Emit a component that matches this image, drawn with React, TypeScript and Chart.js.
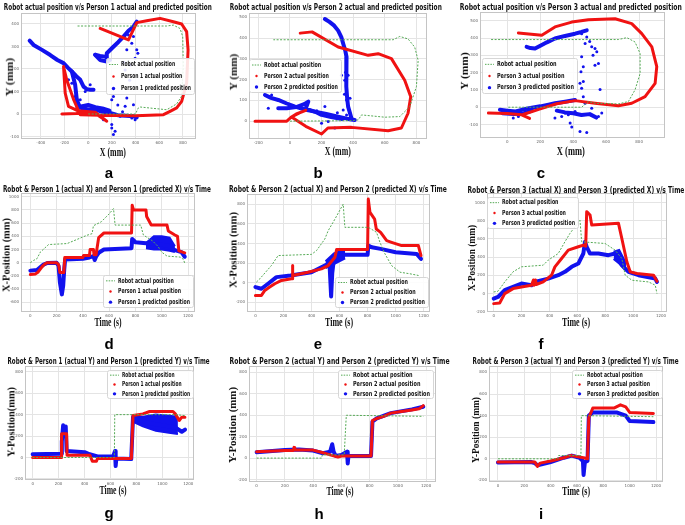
import React, { useEffect, useRef } from "react";
import { Chart, registerables } from "chart.js";

Chart.register(...registerables);

type Pt = [number, number];

// ---------------- shared tick labels ----------------
const TIME_TICKS = [0, 200, 400, 600, 800, 1000, 1200];
const A_X_TICKS = [-400, -200, 0, 200, 400, 600, 800];
const A_Y_TICKS = [-100, 0, 100, 200, 300, 400];
const B_X_TICKS = [-200, 0, 200, 400, 600, 800];
const B_Y_TICKS = [0, 100, 200, 300, 400, 500];
const C_X_TICKS = [0, 200, 400, 600, 800];
const C_Y_TICKS = [-100, 0, 100, 200, 300, 400, 500];
const D_Y_TICKS = [-600, -400, -200, 0, 200, 400, 600, 800, 1000];
const E_Y_TICKS = [-200, 0, 200, 400, 600, 800];
const F_Y_TICKS = [-200, 0, 200, 400, 600, 800, 1000];
const GHI_Y_TICKS = [-200, 0, 200, 400, 600, 800];

// ---------------- panel a : X-Y, person 1 ----------------
const A_ROBOT: Pt[] = [[0, 0], [200, 0], [400, 0], [420, 25], [440, 31], [663, 19], [747, 45], [789, 80], [803, 211], [798, 344], [775, 380], [719, 395], [663, 391], [300, 391], [-101, 391]];
const A_ACTUAL: Pt[] = [[-222, 0], [-100, 2], [0, 5], [60, 2], [157, -32], [60, 8], [-90, 15], [-166, 34], [-194, 93], [-208, 211], [-180, 150], [-120, 60], [-67, -3], [100, -5], [400, -8], [635, -3], [691, 12], [747, 27], [789, 56], [831, 137], [843, 285], [831, 366], [789, 400], [719, 410], [607, 425], [494, 414], [410, 406], [340, 329], [101, 380]];
const A_PRED_DIAG: Pt[] = [[-494, 326], [-461, 307], [-390, 285], [-320, 262], [-260, 240], [-208, 226], [-170, 205], [-138, 189], [-100, 168], [-67, 152], [-39, 122], [-10, 110], [17, 108], [45, 108]];
const A_PRED_DROP: Pt[] = [[-138, 189], [-110, 130], [-96, 63], [-70, 30]];
const A_PRED_LOW: Pt[] = [[-96, 63], [-90, 30], [-40, 25], [0, 20], [60, 20], [120, 10], [185, 5], [250, -5], [320, -8], [382, -10], [410, -15]];
const A_PRED_LOW2: Pt[] = [[-60, 34], [0, 40], [60, 30], [120, 25], [180, 15]];
const A_PRED_UP: Pt[] = [[59, 263], [100, 258], [143, 255], [157, 250], [157, 270], [213, 299], [255, 320], [298, 344], [340, 370], [382, 388], [410, 410]];
const A_PRED_BLOB: Pt[] = [[59, 263], [100, 240], [157, 233], [185, 240]];
const A_PRED_DOTS: Pt[] = [[340, 351], [326, 285], [368, 314], [382, 344], [410, 285], [419, 270], [396, 248], [354, 218], [312, 196], [199, 63], [213, 78], [326, 71], [312, 34], [382, 41], [199, -47], [199, -62], [213, -91], [227, -77], [129, -25], [270, -10], [368, -18], [396, -25], [45, 19], [-67, 63], [-110, 78], [-25, 100], [17, 130], [-138, 137], [-166, 152], [300, 230], [350, 150], [250, 40], [290, 10]];

// ---------------- panel b : X-Y, person 2 ----------------
const B_ROBOT: Pt[] = [[0, 0], [200, 1], [347, 2], [400, 3], [432, 6], [453, 30], [600, 19], [695, 22], [758, 70], [800, 166], [811, 293], [789, 357], [747, 396], [695, 408], [653, 392], [300, 392], [-105, 392]];
const B_ACTUAL: Pt[] = [[-221, 0], [-20, 0], [10, 20], [60, 40], [100, 52], [40, 35], [10, 20], [100, -25], [200, -62], [240, -33], [389, -30], [621, -46], [705, -33], [747, 38], [764, 118], [726, 197], [642, 301], [558, 325], [495, 317], [305, 357], [140, 430], [65, 424]];
const B_PRED_VERT: Pt[] = [[221, 492], [250, 478], [280, 460], [305, 436], [325, 405], [337, 373], [350, 340], [358, 309], [355, 250], [358, 166], [362, 110], [368, 70], [389, 14]];
const B_PRED_LOW: Pt[] = [[-158, 126], [-120, 112], [-74, 102], [-20, 85], [32, 70], [100, 55], [158, 46], [230, 35], [305, 22], [360, 12], [410, 6]];
const B_PRED_FAN: Pt[] = [[-74, 62], [-20, 62], [40, 68], [90, 82], [116, 94], [100, 60], [160, 45], [200, 30], [260, 20], [330, 10]];
const B_PRED_DOTS: Pt[] = [[-116, 126], [-137, 62], [221, 70], [337, 54], [358, 150], [347, 197], [326, 221], [368, 221], [358, 102], [284, -33], [358, 30], [242, -2], [200, -10], [170, 50], [300, 40], [380, 110], [345, 130], [352, 235]];

// ---------------- panel c : X-Y, person 3 ----------------
const C_ROBOT: Pt[] = [[6, 0], [200, 0], [451, 0], [492, 33], [532, 23], [674, 19], [735, 33], [775, 100], [806, 195], [806, 310], [775, 377], [725, 402], [674, 391], [300, 391], [-105, 391]];
const C_ACTUAL: Pt[] = [[-115, -34], [0, -36], [87, -44], [135, -65], [87, -44], [95, -42], [200, -10], [300, 20], [411, 38], [532, 23], [674, 8], [755, 23], [836, 61], [897, 138], [907, 234], [877, 349], [816, 425], [755, 483], [654, 511], [492, 506], [391, 492], [289, 464], [209, 416], [67, 429]];
const C_PRED_LOW: Pt[] = [[-45, -15], [0, -20], [50, -25], [87, -15], [140, -5], [200, 5], [250, 15], [289, 23], [350, 32], [411, 42]];
const C_PRED_LOW2: Pt[] = [[-30, -35], [40, -40], [100, -35], [150, -20]];
const C_PRED_UP: Pt[] = [[117, 349], [140, 342], [168, 339], [200, 355], [240, 375], [289, 397], [350, 412], [411, 425], [450, 435], [482, 444]];
const C_PRED_CLUSTER: Pt[] = [[300, -20], [350, -30], [400, -35], [450, -45], [500, -40], [540, -60]];
const C_PRED_DOTS: Pt[] = [[451, 425], [472, 368], [482, 406], [512, 349], [532, 339], [543, 320], [451, 291], [461, 234], [447, 205], [532, 243], [553, 253], [461, 148], [441, 138], [451, 109], [563, 103], [461, 61], [472, 23], [370, -44], [330, -54], [381, -92], [391, -115], [441, -140], [482, -146], [553, -54], [573, -34], [512, -6], [289, -63], [350, -34], [411, -25], [67, -54], [36, -63], [500, 380], [520, 300]];

// ---------------- panel d : X vs time, person 1 ----------------
const D_ROBOT: Pt[] = [[0, 0], [25, 35], [50, 60], [76, 160], [139, 275], [280, 290], [340, 340], [430, 415], [470, 440], [480, 560], [540, 620], [600, 740], [633, 820], [645, 570], [840, 570], [860, 420], [930, 330], [970, 250], [1000, 160], [1040, 100], [1140, 85], [1165, 50], [1177, -20]];
const D_ACTUAL: Pt[] = [[0, -180], [40, -170], [60, -140], [90, -60], [110, -20], [130, 0], [200, 0], [215, -30], [225, -150], [255, -150], [262, 80], [400, 80], [405, 110], [450, 110], [455, 200], [480, 200], [485, 120], [500, 120], [520, 380], [560, 450], [770, 450], [775, 870], [785, 800], [880, 800], [885, 700], [920, 570], [1040, 570], [1050, 480], [1100, 420], [1120, 400], [1130, 180], [1175, 150]];
const D_PRED: Pt[] = [[0, -120], [50, -110], [100, -30], [130, -5], [200, 0], [215, -50], [225, -300], [240, -480], [250, -350], [258, -100], [265, 50], [400, 60], [450, 80], [480, 100], [490, 40], [500, 90], [520, 150], [560, 200], [770, 220], [775, 360], [800, 310], [900, 290], [950, 280], [1050, 260], [1100, 190], [1150, 160], [1175, 90]];
const D_PRED_LO: Pt[] = [[880, 220], [940, 200], [1000, 200], [1060, 180], [1100, 160]];
const D_PRED_HI: Pt[] = [[880, 300], [940, 400], [1000, 400], [1060, 380], [1100, 250]];

// ---------------- panel e : X vs time, person 2 ----------------
const E_ROBOT: Pt[] = [[7, 7], [31, 40], [114, 176], [162, 278], [400, 290], [436, 329], [495, 447], [519, 532], [567, 650], [626, 803], [638, 566], [805, 566], [864, 515], [888, 413], [924, 295], [971, 176], [1031, 108], [1102, 92], [1162, 75], [1174, 24]];
const E_ACTUAL: Pt[] = [[0, -129], [43, -129], [67, -78], [102, -44], [138, -10], [186, 24], [257, 41], [262, 41], [264, 176], [267, 75], [376, 108], [471, 142], [519, 176], [567, 261], [579, 339], [800, 339], [805, 854], [817, 719], [850, 650], [862, 549], [893, 515], [936, 430], [971, 413], [1043, 380], [1162, 380], [1181, 278]];
const E_PRED: Pt[] = [[0, -44], [43, -61], [90, -10], [150, 58], [250, 75], [400, 108], [495, 176], [519, 193], [530, 150], [540, -140], [548, 100], [560, 244], [590, 278], [630, 285], [800, 285], [805, 380], [830, 363], [893, 346], [1000, 312], [1150, 295], [1181, 244]];
const E_PRED_LO: Pt[] = [[500, 150], [560, 190], [640, 250]];
const E_PRED_HI: Pt[] = [[500, 220], [560, 300], [640, 340]];

// ---------------- panel f : X vs time, person 3 ----------------
const F_ROBOT: Pt[] = [[0, 18], [31, 26], [79, 128], [139, 239], [199, 294], [355, 312], [391, 367], [463, 440], [511, 569], [547, 661], [619, 807], [631, 569], [799, 550], [871, 477], [919, 385], [943, 202], [991, 147], [1111, 128], [1159, 92], [1171, 0]];
const F_ACTUAL: Pt[] = [[0, -110], [43, -103], [79, 0], [139, 55], [199, 73], [271, 92], [285, 150], [290, 92], [300, 150], [305, 100], [355, 128], [415, 202], [439, 294], [487, 385], [535, 477], [607, 514], [643, 532], [660, 520], [667, 899], [680, 880], [691, 862], [703, 752], [895, 771], [919, 605], [955, 349], [979, 239], [1027, 220], [1147, 202], [1171, 136]];
const F_PRED: Pt[] = [[0, -55], [31, -37], [79, 37], [139, 73], [199, 110], [271, 92], [295, 128], [391, 165], [463, 202], [511, 239], [559, 294], [607, 330], [643, 440], [655, 569], [667, 514], [691, 440], [751, 440], [823, 422], [871, 440], [895, 404], [919, 312], [967, 239], [1039, 202], [1159, 165], [1171, 128]];
const F_PRED_LO: Pt[] = [[860, 380], [900, 330], [950, 250]];
const F_PRED_HI: Pt[] = [[860, 460], [900, 480], [950, 330]];

// ---------------- panel g : Y vs time, person 1 ----------------
const G_ROBOT: Pt[] = [[0, 0], [630, 0], [633, 400], [1100, 400], [1180, 390]];
const G_ACTUAL: Pt[] = [[0, 0], [220, 0], [223, 222], [262, 222], [265, 22], [441, 22], [460, -34], [492, -34], [500, -9], [761, -9], [774, 392], [850, 407], [902, 429], [1082, 429], [1100, 407], [1130, 345], [1150, 376], [1174, 376]];
const G_PRED: Pt[] = [[0, 30], [220, 35], [225, 150], [235, 300], [245, 200], [255, 290], [262, 60], [400, 50], [440, 30], [500, 10], [620, 10], [635, 60], [640, -80], [645, -10], [760, -15], [774, 380], [800, 360], [900, 320], [1000, 300], [1100, 280], [1150, 240], [1175, 260]];
const G_PRED_LO: Pt[] = [[780, 330], [850, 290], [950, 250], [1050, 230], [1120, 220]];
const G_PRED_HI: Pt[] = [[780, 390], [850, 380], [950, 400], [1050, 390], [1120, 380]];

// ---------------- panel h : Y vs time, person 2 ----------------
const H_ROBOT: Pt[] = [[0, 0], [460, 0], [465, 30], [620, 30], [635, 400], [1180, 390]];
const H_ACTUAL: Pt[] = [[0, 60], [200, 70], [260, 72], [265, 100], [270, 75], [400, 75], [470, 50], [520, 30], [576, 10], [600, 20], [810, 20], [820, 350], [850, 370], [900, 390], [950, 420], [1000, 430], [1050, 440], [1100, 450], [1150, 460], [1180, 490]];
const H_PRED: Pt[] = [[0, 55], [200, 75], [300, 80], [400, 70], [470, 45], [520, 60], [535, 130], [545, 60], [560, 20], [600, 30], [640, 60], [645, -50], [650, 20], [810, 20], [820, 340], [850, 370], [950, 420], [1100, 455], [1180, 480]];

// ---------------- panel i : Y vs time, person 3 ----------------
const I_ROBOT: Pt[] = [[0, 0], [456, 0], [460, 30], [630, 30], [633, 400], [1180, 390]];
const I_ACTUAL: Pt[] = [[0, -30], [280, -30], [300, -70], [320, -40], [400, -20], [500, 10], [550, 30], [600, 20], [650, 10], [680, 0], [690, 380], [720, 470], [880, 470], [930, 500], [970, 480], [1000, 430], [1180, 420]];
const I_PRED: Pt[] = [[0, -35], [250, -30], [280, -40], [300, -60], [400, -30], [500, 10], [560, 30], [620, 10], [645, -20], [650, -150], [660, -30], [680, -20], [690, 400], [720, 430], [900, 430], [970, 400], [1000, 350], [1180, 340]];

// ---------------- styling / layout ----------------
const GREEN = "rgb(85,170,85)";
const RED = "rgb(240,18,18)";
const BLUE = "rgb(18,18,238)";
const GRID = "#e4e4e4";
const Y_AXIS_W = 12;
const X_AXIS_H = 8;
const PAD = 4;

interface Spec {
  person: number;
  plot: [number, number, number, number];
  xr: [number, number];
  yr: [number, number];
  xTicks: number[];
  yTicks: number[];
  robot: Pt[];
  actual: Pt[];
  pred: Pt[][];
  bands?: [Pt[], Pt[]][];
  dots?: Pt[];
  legend: [number, number, number, number];
  title: string;
  titleBox: [number, number, number];
  xLabel: string;
  xLabelBox: [number, number, number];
  yLabel: string;
  yLabelBox: [number, number, number];
  letter: string;
  letterPos: [number, number];
}

const PANELS: Spec[] = [
  {
    person: 1, plot: [21, 13, 196, 139], xr: [-567, 910], yr: [-111, 447], xTicks: A_X_TICKS, yTicks: A_Y_TICKS,
    robot: A_ROBOT, actual: A_ACTUAL, pred: [A_PRED_DIAG, A_PRED_DROP, A_PRED_LOW, A_PRED_LOW2, A_PRED_UP, A_PRED_BLOB], dots: A_PRED_DOTS,
    legend: [106, 58, 194, 94],
    title: "Robot actual position v/s Person 1 actual and predicted position", titleBox: [4, 212, 7],
    xLabel: "X (mm)", xLabelBox: [113, 152, 26], yLabel: "Y (mm)", yLabelBox: [10, 77, 39],
    letter: "a", letterPos: [109, 178],
  },
  {
    person: 2, plot: [249, 13, 427, 139], xr: [-259, 867], yr: [-86, 519], xTicks: B_X_TICKS, yTicks: B_Y_TICKS,
    robot: B_ROBOT, actual: B_ACTUAL, pred: [B_PRED_VERT, B_PRED_LOW, B_PRED_FAN], dots: B_PRED_DOTS,
    legend: [249, 59, 341, 92],
    title: "Robot actual position v/s Person 2 actual and predicted position", titleBox: [230, 442, 7],
    xLabel: "X (mm)", xLabelBox: [338, 151, 26], yLabel: "Y (mm)", yLabelBox: [234, 72, 37],
    letter: "b", letterPos: [318, 178],
  },
  {
    person: 3, plot: [480, 12, 665, 138], xr: [-166, 957], yr: [-178, 548], xTicks: C_X_TICKS, yTicks: C_Y_TICKS,
    robot: C_ROBOT, actual: C_ACTUAL, pred: [C_PRED_LOW, C_PRED_LOW2, C_PRED_UP, C_PRED_CLUSTER], dots: C_PRED_DOTS,
    legend: [482, 58, 577, 93],
    title: "Robot actual position v/s Person 3 actual and predicted position", titleBox: [460, 682, 7],
    xLabel: "X (mm)", xLabelBox: [571, 151, 28], yLabel: "Y (mm)", yLabelBox: [465, 71, 38],
    letter: "c", letterPos: [541, 178],
  },
  {
    person: 1, plot: [21, 193, 195, 312], xr: [-71, 1253], yr: [-747, 1050], xTicks: TIME_TICKS, yTicks: D_Y_TICKS,
    robot: D_ROBOT, actual: D_ACTUAL, pred: [D_PRED], bands: [[D_PRED_LO, D_PRED_HI]],
    legend: [103, 275, 193, 307],
    title: "Robot & Person 1 (actual X) and Person 1 (predicted X) v/s Time", titleBox: [3, 211, 189],
    xLabel: "Time (s)", xLabelBox: [108, 322, 27], yLabel: "X-Position (mm)", yLabelBox: [6, 255, 74],
    letter: "d", letterPos: [109, 349],
  },
  {
    person: 2, plot: [247, 194, 430, 312], xr: [-60, 1245], yr: [-298, 902], xTicks: TIME_TICKS, yTicks: E_Y_TICKS,
    robot: E_ROBOT, actual: E_ACTUAL, pred: [E_PRED], bands: [[E_PRED_LO, E_PRED_HI]],
    legend: [335, 277, 428, 307],
    title: "Robot & Person 2 (actual X) and Person 2 (predicted X) v/s Time", titleBox: [229, 447, 189],
    xLabel: "Time (s)", xLabelBox: [339, 322, 28], yLabel: "X-Position (mm)", yLabelBox: [233, 250, 76],
    letter: "e", letterPos: [318, 349],
  },
  {
    person: 3, plot: [487, 193, 667, 312], xr: [-48, 1243], yr: [-202, 1100], xTicks: TIME_TICKS, yTicks: F_Y_TICKS,
    robot: F_ROBOT, actual: F_ACTUAL, pred: [F_PRED], bands: [[F_PRED_LO, F_PRED_HI]],
    legend: [487, 197, 578, 228],
    title: "Robot & Person 3 (actual X) and Person 3 (predicted X) v/s Time", titleBox: [467, 684, 190],
    xLabel: "Time (s)", xLabelBox: [576, 322, 28], yLabel: "X-Position (mm)", yLabelBox: [471, 258, 66],
    letter: "f", letterPos: [541, 349],
  },
  {
    person: 1, plot: [25, 366, 194, 480], xr: [-59, 1244], yr: [-210, 850], xTicks: TIME_TICKS, yTicks: GHI_Y_TICKS,
    robot: G_ROBOT, actual: G_ACTUAL, pred: [G_PRED], bands: [[G_PRED_LO, G_PRED_HI]],
    legend: [107, 370, 193, 398],
    title: "Robot & Person 1 (actual Y) and Person 1 (predicted Y) v/s Time", titleBox: [8, 210, 361],
    xLabel: "Time (s)", xLabelBox: [113, 490, 27], yLabel: "Y-Position(mm)", yLabelBox: [11, 422, 70],
    letter: "g", letterPos: [109, 518],
  },
  {
    person: 2, plot: [249, 366, 436, 482], xr: [-54, 1270], yr: [-223, 856], xTicks: TIME_TICKS, yTicks: GHI_Y_TICKS,
    robot: H_ROBOT, actual: H_ACTUAL, pred: [H_PRED],
    legend: [338, 370, 433, 398],
    title: "Robot & Person 2 (actual Y) and Person 2 (predicted Y) v/s Time", titleBox: [230, 450, 361],
    xLabel: "Time (s)", xLabelBox: [340, 491, 27], yLabel: "Y-Position (mm)", yLabelBox: [233, 425, 76],
    letter: "h", letterPos: [319, 519],
  },
  {
    person: 3, plot: [489, 366, 663, 482], xr: [-68, 1253], yr: [-215, 856], xTicks: TIME_TICKS, yTicks: GHI_Y_TICKS,
    robot: I_ROBOT, actual: I_ACTUAL, pred: [I_PRED],
    legend: [572, 370, 662, 398],
    title: "Robot & Person 3 (actual Y) and Person 3 (predicted Y) v/s Time", titleBox: [473, 679, 361],
    xLabel: "Time (s)", xLabelBox: [576, 491, 28], yLabel: "Y-Position (mm)", yLabelBox: [476, 430, 66],
    letter: "i", letterPos: [541, 519],
  },
];

const toXY = (arr: Pt[]) => arr.map(([x, y]) => ({ x, y }));

const framePlugin = {
  id: "frame",
  afterDatasetsDraw(chart: any) {
    const { left, top, right, bottom } = chart.chartArea;
    const ctx = chart.ctx;
    ctx.save();
    ctx.strokeStyle = "#c4c4c4";
    ctx.lineWidth = 1;
    ctx.strokeRect(Math.round(left) + 0.5, Math.round(top) + 0.5, Math.round(right - left) - 1, Math.round(bottom - top) - 1);
    ctx.restore();
  },
};

function legendPlugin(box: [number, number, number, number], person: number, offX: number, offY: number) {
  return {
    id: "insideLegend",
    afterDraw(chart: any) {
      const ctx = chart.ctx as CanvasRenderingContext2D;
      const x1 = box[0] - offX, y1 = box[1] - offY, x2 = box[2] - offX, y2 = box[3] - offY;
      ctx.save();
      ctx.fillStyle = "rgba(255,255,255,0.88)";
      ctx.strokeStyle = "#d6d6d6";
      ctx.lineWidth = 1;
      ctx.beginPath();
      (ctx as any).roundRect(x1 + 0.5, y1 + 0.5, x2 - x1, y2 - y1, 2);
      ctx.fill();
      ctx.stroke();
      const labels = ["Robot actual position", `Person ${person} actual position`, `Person ${person} predicted position`];
      ctx.font = 'bold 7px "DejaVu Sans Condensed", "DejaVu Sans", sans-serif';
      const maxW = Math.max(...labels.map((l) => ctx.measureText(l).width));
      const tx = x1 + 15;
      const k = (x2 - 3 - tx) / maxW;
      const h = y2 - y1;
      labels.forEach((lab, i) => {
        const cy = y1 + (h * (i + 0.5)) / 3 + 0.5;
        if (i === 0) {
          ctx.strokeStyle = GREEN;
          ctx.lineWidth = 1;
          ctx.setLineDash([1.5, 1.2]);
          ctx.beginPath();
          ctx.moveTo(x1 + 3, cy);
          ctx.lineTo(x1 + 12, cy);
          ctx.stroke();
          ctx.setLineDash([]);
        } else {
          ctx.fillStyle = i === 1 ? RED : BLUE;
          ctx.beginPath();
          ctx.arc(x1 + 7.5, cy, i === 1 ? 1.2 : 1.7, 0, Math.PI * 2);
          ctx.fill();
        }
        ctx.save();
        ctx.translate(tx, cy);
        ctx.scale(k, 1);
        ctx.fillStyle = "#111";
        ctx.textBaseline = "middle";
        ctx.fillText(lab, 0, 0);
        ctx.restore();
      });
      ctx.restore();
    },
  };
}

function buildConfig(spec: Spec, offX: number, offY: number): any {
  const datasets: any[] = [];
  datasets.push({
    label: "Robot actual position", data: toXY(spec.robot), showLine: true, borderColor: GREEN,
    borderWidth: 1, borderDash: [2, 1.5], pointRadius: 0, order: 1,
  });
  datasets.push({
    label: `Person ${spec.person} actual position`, data: toXY(spec.actual), showLine: true, borderColor: RED,
    borderWidth: 3, pointRadius: 0, order: 2, borderJoinStyle: "round", borderCapStyle: "round",
  });
  spec.pred.forEach((seg) =>
    datasets.push({
      label: `Person ${spec.person} predicted position`, data: toXY(seg), showLine: true, borderColor: BLUE,
      borderWidth: 4, pointRadius: 0, order: 3, borderJoinStyle: "round", borderCapStyle: "round",
    })
  );
  (spec.bands || []).forEach(([lo, hi]) => {
    datasets.push({ data: toXY(lo), showLine: true, borderColor: BLUE, borderWidth: 2, pointRadius: 0, order: 3, fill: false });
    datasets.push({ data: toXY(hi), showLine: true, borderColor: BLUE, borderWidth: 2, pointRadius: 0, order: 3, fill: "-1", backgroundColor: BLUE });
  });
  if (spec.dots) {
    datasets.push({ data: toXY(spec.dots), showLine: false, pointRadius: 1.5, backgroundColor: BLUE, borderWidth: 0, order: 3 });
  }
  const tickFont = { size: 4, family: "DejaVu Sans" };
  const fmt = (v: any) => String(v);
  return {
    type: "scatter",
    data: { datasets },
    options: {
      animation: false,
      responsive: false,
      devicePixelRatio: 1,
      layout: { padding: { top: PAD, right: PAD, left: 0, bottom: 0 } },
      elements: { line: { tension: 0 } },
      plugins: { legend: { display: false }, tooltip: { enabled: false }, title: { display: false } },
      scales: {
        x: {
          type: "linear", min: spec.xr[0], max: spec.xr[1],
          afterBuildTicks: (s: any) => { s.ticks = spec.xTicks.map((v) => ({ value: v })); },
          afterFit: (s: any) => { s.height = X_AXIS_H; },
          ticks: { font: tickFont, color: "#666", padding: 2, maxRotation: 0, autoSkip: false, callback: fmt },
          grid: { color: GRID, lineWidth: 1, drawTicks: false },
          border: { display: false },
        },
        y: {
          type: "linear", min: spec.yr[0], max: spec.yr[1],
          afterBuildTicks: (s: any) => { s.ticks = spec.yTicks.map((v) => ({ value: v })); },
          afterFit: (s: any) => { s.width = Y_AXIS_W; },
          ticks: { font: tickFont, color: "#666", padding: 2, autoSkip: false, callback: fmt },
          grid: { color: GRID, lineWidth: 1, drawTicks: false },
          border: { display: false },
        },
      },
    },
    plugins: [framePlugin, legendPlugin(spec.legend, spec.person, offX, offY)],
  };
}

function Panel({ spec }: { spec: Spec }) {
  const ref = useRef<HTMLCanvasElement>(null);
  const [pl, pt, pr, pb] = spec.plot;
  const left = pl - Y_AXIS_W;
  const top = pt - PAD;
  const width = pr - left + PAD;
  const height = pb + X_AXIS_H - top;
  useEffect(() => {
    const chart = new Chart(ref.current as HTMLCanvasElement, buildConfig(spec, left, top));
    return () => chart.destroy();
  }, []);
  return <canvas ref={ref} width={width} height={height} style={{ position: "absolute", left, top, width, height }} />;
}

let measureCtx: CanvasRenderingContext2D | null = null;
function textWidth(text: string, font: string) {
  if (!measureCtx) measureCtx = document.createElement("canvas").getContext("2d");
  measureCtx!.font = font;
  return measureCtx!.measureText(text).width;
}

function FitText(props: { text: string; cx: number; cy: number; len: number; size: number; family: string; rotate?: boolean; sy?: number }) {
  const { text, cx, cy, len, size, family, rotate, sy } = props;
  const font = `bold ${size}px ${family}`;
  const w = textWidth(text, font);
  const k = len / w;
  return (
    <div
      style={{
        position: "absolute", left: cx - w / 2, top: cy - size / 2, width: w, height: size,
        fontFamily: family, fontSize: size, fontWeight: "bold", lineHeight: `${size}px`,
        whiteSpace: "nowrap", color: "#111", textAlign: "center",
        transform: `rotate(${rotate ? -90 : 0}deg) scale(${k}, ${sy ?? 1})`, transformOrigin: "50% 50%",
      }}
    >
      {text}
    </div>
  );
}

const TITLE_FAMILY = '"DejaVu Sans Condensed", "DejaVu Sans", sans-serif';
const AXIS_FAMILY = '"Liberation Serif", "DejaVu Serif", serif';
const LETTER_FAMILY = '"Liberation Sans", Arial, sans-serif';

export default function App() {
  return (
    <div style={{ position: "absolute", left: 0, top: 0, width: 685, height: 525, background: "#fff", overflow: "hidden" }}>
      {PANELS.map((p, i) => (
        <React.Fragment key={i}>
          <Panel spec={p} />
          <FitText text={p.title} cx={(p.titleBox[0] + p.titleBox[1]) / 2} cy={p.titleBox[2]} len={p.titleBox[1] - p.titleBox[0]} size={9} family={TITLE_FAMILY} />
          <FitText text={p.xLabel} cx={p.xLabelBox[0]} cy={p.xLabelBox[1]} len={p.xLabelBox[2]} size={12} family={AXIS_FAMILY} />
          <FitText text={p.yLabel} cx={p.yLabelBox[0]} cy={p.yLabelBox[1]} len={p.yLabelBox[2]} size={12} family={AXIS_FAMILY} rotate sy={0.85} />
          <div
            style={{
              position: "absolute", left: p.letterPos[0] - 10, top: p.letterPos[1] - 12.7, width: 20, height: 15,
              fontFamily: LETTER_FAMILY, fontSize: 15, fontWeight: "bold", lineHeight: "15px", textAlign: "center", color: "#000",
            }}
          >
            {p.letter}
          </div>
        </React.Fragment>
      ))}
    </div>
  );
}
